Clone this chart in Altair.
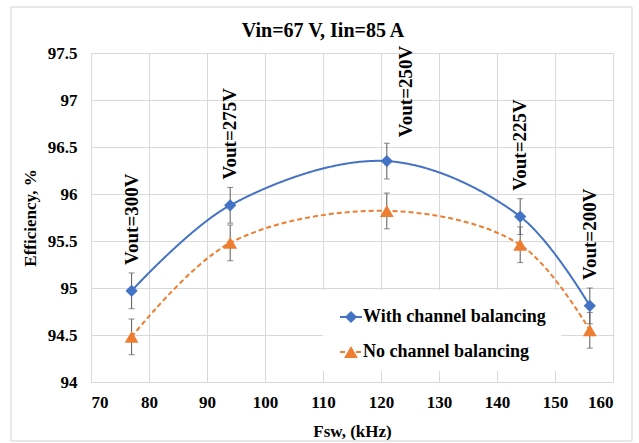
import altair as alt
import pandas as pd

# ---- data ----
fsw = [77, 94, 121, 144, 156]
eff_with = [94.97, 95.88, 96.35, 95.76, 94.81]
eff_without = [94.48, 95.48, 95.82, 95.46, 94.55]
err_with = [0.19, 0.19, 0.19, 0.19, 0.19]
err_without = [0.19, 0.19, 0.19, 0.19, 0.19]
vout_labels = ["Vout=300V", "Vout=275V", "Vout=250V", "Vout=225V", "Vout=200V"]
series_names = ["With channel balancing", "No channel balancing"]
series_colors = ["#4472C4", "#ED7D31"]
x_ticks = [70, 80, 90, 100, 110, 120, 130, 140, 150, 160]
y_ticks = [94, 94.5, 95, 95.5, 96, 96.5, 97, 97.5]

rows = []
for name, effs, errs in [(series_names[0], eff_with, err_with),
                         (series_names[1], eff_without, err_without)]:
    for f, e, r in zip(fsw, effs, errs):
        rows.append({"fsw": f, "eff": e, "err": r, "series": name})
df = pd.DataFrame(rows)

lab = pd.DataFrame({
    "fsw": fsw,
    "top": [e + r for e, r in zip(eff_with, err_with)],
    "label": vout_labels,
})
leg = pd.DataFrame({"series": series_names})

FONT = "Liberation Serif"
xs = alt.Scale(domain=[70, 160], nice=False, zero=False)
ys = alt.Scale(domain=[94, 97.5], nice=False, zero=False)

X = alt.X("fsw:Q", scale=xs, axis=alt.Axis(values=x_ticks, title="Fsw, (kHz)"))
Y = alt.Y("eff:Q", scale=ys, axis=alt.Axis(values=y_ticks, format=".1~f", title="Efficiency, %"))

color_scale = alt.Scale(domain=series_names, range=series_colors)
C = alt.Color("series:N", scale=color_scale, legend=None)
dash_scale = alt.Scale(domain=series_names, range=[[1, 0], [5, 3]])
shape_scale = alt.Scale(domain=series_names, range=["diamond", "triangle-up"])
size_scale = alt.Scale(domain=series_names, range=[150, 190])

base = alt.Chart(df)

err_rule = base.mark_rule(color="#595959", strokeWidth=1).transform_calculate(
    lo="datum.eff - datum.err", hi="datum.eff + datum.err"
).encode(x=X, y=alt.Y("lo:Q", scale=ys), y2="hi:Q")

cap_lo = base.mark_tick(color="#595959", thickness=1, size=6, orient="horizontal").transform_calculate(
    lo="datum.eff - datum.err"
).encode(x=X, y=alt.Y("lo:Q", scale=ys))
cap_hi = base.mark_tick(color="#595959", thickness=1, size=6, orient="horizontal").transform_calculate(
    hi="datum.eff + datum.err"
).encode(x=X, y=alt.Y("hi:Q", scale=ys))

lines = base.mark_line(interpolate="catmull-rom", strokeWidth=2).encode(
    x=X, y=Y, color=C,
    strokeDash=alt.StrokeDash("series:N", scale=dash_scale, legend=None),
)

points = base.mark_point(filled=True, opacity=1).encode(
    x=X, y=Y, color=C,
    shape=alt.Shape("series:N", scale=shape_scale, legend=None),
    size=alt.Size("series:N", scale=size_scale, legend=None),
)

lab_base = alt.Chart(lab)
text_main = lab_base.transform_filter("datum.label !== 'Vout=250V'").mark_text(
    angle=270, align="left", baseline="middle", dx=8,
    font=FONT, fontSize=19, fontWeight="bold", color="black",
).encode(x=alt.X("fsw:Q", scale=xs), y=alt.Y("top:Q", scale=ys), text="label:N")
text_250 = lab_base.transform_filter("datum.label === 'Vout=250V'").mark_text(
    angle=270, align="left", baseline="middle", dx=6, dy=19,
    font=FONT, fontSize=19, fontWeight="bold", color="black",
).encode(x=alt.X("fsw:Q", scale=xs), y=alt.Y("top:Q", scale=ys), text="label:N")

# chart frame (decoration)
frame = alt.Chart(leg).transform_filter(f"datum.series === '{series_names[0]}'").mark_rect(
    fill="transparent", stroke="#d0d0d0", strokeWidth=1
).encode(x=alt.value(-80), x2=alt.value(541), y=alt.value(-46), y2=alt.value(388))

# legend (drawn inside the plot area, Excel style)
leg_base = alt.Chart(leg)
leg_bg = leg_base.transform_filter(f"datum.series === '{series_names[0]}'").mark_rect(
    fill="white", stroke=None
).encode(x=alt.value(232), x2=alt.value(470), y=alt.value(237), y2=alt.value(318))

LEG_Y = [264, 299]
leg_layers = []
for i, name in enumerate(series_names):
    f = f"datum.series === '{name}'"
    lb = leg_base.transform_filter(f)
    leg_layers.append(lb.mark_rule(strokeWidth=2).encode(
        x=alt.value(249), x2=alt.value(271), y=alt.value(LEG_Y[i]), color=C,
        strokeDash=alt.StrokeDash("series:N", scale=dash_scale, legend=None)))
    leg_layers.append(lb.mark_point(filled=True, opacity=1).encode(
        x=alt.value(260), y=alt.value(LEG_Y[i]), color=C,
        shape=alt.Shape("series:N", scale=shape_scale, legend=None),
        size=alt.Size("series:N", scale=size_scale, legend=None)))
    leg_layers.append(lb.mark_text(
        align="left", baseline="middle", font=FONT, fontSize=18, fontWeight="bold", color="black"
    ).encode(x=alt.value(272), y=alt.value(LEG_Y[i]), text="series:N"))

chart = alt.layer(
    frame, err_rule, cap_lo, cap_hi, lines, points, text_main, text_250, leg_bg, *leg_layers
).properties(
    width=522, height=329,
    autosize=alt.AutoSizeParams(type="none"),
    padding={"left": 91, "top": 53, "right": 26, "bottom": 61},
    title=alt.TitleParams("Vin=67 V, Iin=85 A", font=FONT, fontSize=20, fontWeight="bold",
                          color="black", anchor="middle", baseline="alphabetic",
                          dx=-29, dy=66, offset=16),
).configure_view(stroke="#d9d9d9").configure_axis(
    grid=True, gridColor="#d9d9d9", domain=False, ticks=False,
    labelFont=FONT, labelFontSize=17, labelFontWeight="bold", labelColor="black",
    titleFont=FONT, titleFontSize=17, titleFontWeight="bold", titleColor="black",
).configure_axisY(labelPadding=14, titlePadding=8).configure_axisX(labelPadding=12, titlePadding=13)

chart.save("out.html", embed_options={"renderer": "svg", "actions": False})
